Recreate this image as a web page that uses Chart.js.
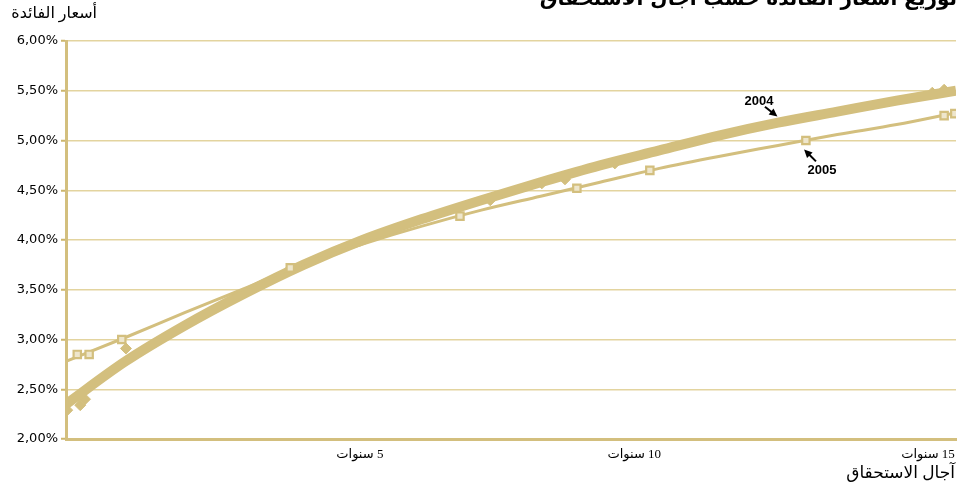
<!DOCTYPE html>
<html>
<head>
<meta charset="utf-8">
<script src="https://cdn.jsdelivr.net/npm/chart.js@4.4.1/dist/chart.umd.min.js"></script>
<style>
  html, body { margin: 0; padding: 0; background: #fff; }
  #wrap { width: 957px; height: 486px; }
</style>
</head>
<body>
<div id="wrap"><canvas id="yieldCurve" dir="rtl" width="957" height="486"></canvas></div>
<script>
// yield curve by maturity, 2004 vs 2005
const trendYears = [0, 1, 2, 3, 4, 5, 6, 7, 8, 9, 10, 11, 12, 13, 14, 15];
const trend2004 = [2.35, 2.78, 3.14, 3.46, 3.75, 4.00, 4.21, 4.40, 4.58, 4.75, 4.90, 5.05, 5.18, 5.29, 5.40, 5.50];
const trend2005 = [2.78, 3.02, 3.27, 3.51, 3.76, 3.96, 4.14, 4.30, 4.44, 4.58, 4.72, 4.84, 4.95, 5.06, 5.16, 5.28];

const obs2004Years = [0.02, 0.24, 0.32, 1.01, 3.78, 7.15, 8.02, 8.41, 9.25, 14.6, 14.8];
const obs2004Rates = [2.29, 2.34, 2.40, 2.91, 3.71, 4.40, 4.57, 4.61, 4.77, 5.48, 5.51];
const obs2005Years = [0.19, 0.39, 0.94, 3.78, 6.64, 8.61, 9.84, 12.47, 14.8, 14.98];
const obs2005Rates = [2.85, 2.85, 3.00, 3.72, 4.24, 4.52, 4.70, 5.00, 5.25, 5.27];

const yTicks = [2, 2.5, 3, 3.5, 4, 4.5, 5, 5.5, 6];
const xTickValues = [5.35, 10.03, 14.98];
const xTickLabels = ['5 سنوات', '10 سنوات', '15 سنوات'];

const GOLD = '#d3bf7e';
const GOLD_DARK = '#cdb66c';
const GRID = '#e3d49f';

function pts(xs, ys) {
    return xs.map(function (x, i) { return { x: x, y: ys[i] }; });
}

// labels + arrows next to the two curves, anchored in data units
const notes = [
    { text: '2004', at: [11.68, 5.39], from: [11.78, 5.34], to: [11.99, 5.24] },
    { text: '2005', at: [12.74, 4.70], from: [12.64, 4.79], to: [12.44, 4.91] }
];

const textPlugin = {
    id: 'texts',
    afterDraw: function (chart) {
        const ctx = chart.ctx;
        const xs = chart.scales.x, ys = chart.scales.y;
        ctx.save();
        ctx.direction = 'rtl';
        ctx.fillStyle = '#000';

        // title, cut off by the top edge
        ctx.textAlign = 'right';
        ctx.textBaseline = 'alphabetic';
        ctx.font = 'bold 20px "DejaVu Sans"';
        ctx.fillText('توزيع أسعار الفائدة حسب آجال الاستحقاق', 957, 5);

        ctx.textBaseline = 'middle';
        ctx.font = '16px "Liberation Serif", "DejaVu Sans"';
        ctx.fillText('أسعار الفائدة', 97, 14);
        ctx.font = '17px "Liberation Serif", "DejaVu Sans"';
        ctx.fillText('آجال الاستحقاق', 955, 474);

        ctx.direction = 'ltr';
        ctx.textAlign = 'center';
        ctx.font = 'bold 13px "Liberation Sans", Arial';
        notes.forEach(function (n) {
            ctx.fillText(n.text, xs.getPixelForValue(n.at[0]), ys.getPixelForValue(n.at[1]));
            const x1 = xs.getPixelForValue(n.from[0]), y1 = ys.getPixelForValue(n.from[1]);
            const x2 = xs.getPixelForValue(n.to[0]), y2 = ys.getPixelForValue(n.to[1]);
            const a = Math.atan2(y2 - y1, x2 - x1);
            ctx.strokeStyle = '#000';
            ctx.lineWidth = 2;
            ctx.beginPath();
            ctx.moveTo(x1, y1);
            ctx.lineTo(x2 - 5 * Math.cos(a), y2 - 5 * Math.sin(a));
            ctx.stroke();
            ctx.beginPath();
            ctx.moveTo(x2, y2);
            ctx.lineTo(x2 - 9 * Math.cos(a - 0.45), y2 - 9 * Math.sin(a - 0.45));
            ctx.lineTo(x2 - 9 * Math.cos(a + 0.45), y2 - 9 * Math.sin(a + 0.45));
            ctx.closePath();
            ctx.fill();
        });
        ctx.restore();
    }
};

new Chart(document.getElementById('yieldCurve'), {
    type: 'scatter',
    data: {
        datasets: [
            {
                label: '2004 trend',
                data: pts(trendYears, trend2004),
                showLine: true,
                borderColor: GOLD,
                borderWidth: 10,
                pointRadius: 0,
                cubicInterpolationMode: 'monotone',
                order: 3
            },
            {
                label: '2005 trend',
                data: pts(trendYears, trend2005),
                showLine: true,
                borderColor: GOLD,
                borderWidth: 3,
                pointRadius: 0,
                cubicInterpolationMode: 'monotone',
                order: 2
            },
            {
                label: '2004',
                data: pts(obs2004Years, obs2004Rates),
                pointStyle: 'rectRot',
                pointRadius: 5.5,
                backgroundColor: GOLD,
                borderColor: GOLD,
                borderWidth: 1,
                order: 4
            },
            {
                label: '2005',
                data: pts(obs2005Years, obs2005Rates),
                pointStyle: 'rect',
                pointRadius: 5.2,
                backgroundColor: '#eee6cc',
                borderColor: GOLD,
                borderWidth: 2.2,
                order: 1
            }
        ]
    },
    options: {
        responsive: false,
        animation: false,
        layout: { autoPadding: false, padding: { top: 41, right: 1, left: 0, bottom: 0 } },
        plugins: {
            legend: { display: false },
            tooltip: { enabled: false }
        },
        scales: {
            x: {
                type: 'linear',
                min: 0,
                max: 15,
                afterBuildTicks: function (s) {
                    s.ticks = xTickValues.map(function (v) { return { value: v }; });
                },
                afterFit: function (s) {
                    s.height = 47;
                    s.paddingLeft = 0;
                    s.paddingRight = 0;
                },
                ticks: {
                    align: 'end',
                    padding: 0,
                    maxRotation: 0,
                    color: '#000',
                    font: { family: '"Liberation Serif", "DejaVu Sans"', size: 13 },
                    callback: function (v, i) { return xTickLabels[i]; }
                },
                grid: { display: false },
                border: { display: true, color: GOLD, width: 3 }
            },
            y: {
                min: 2,
                max: 6,
                afterBuildTicks: function (s) {
                    s.ticks = yTicks.map(function (v) { return { value: v }; });
                },
                afterFit: function (s) {
                    s.width = 66;
                    s.paddingTop = 0;
                    s.paddingBottom = 0;
                },
                ticks: {
                    padding: 3,
                    color: '#000',
                    font: { family: '"DejaVu Sans"', size: 13 },
                    callback: function (v) { return v.toFixed(2).replace('.', ',') + '%'; }
                },
                grid: {
                    color: GRID,
                    lineWidth: 1.5,
                    tickLength: 5,
                    tickColor: GOLD_DARK,
                    tickWidth: 2
                },
                border: { display: true, color: GOLD, width: 3 }
            }
        }
    },
    plugins: [textPlugin]
});
</script>
</body>
</html>
